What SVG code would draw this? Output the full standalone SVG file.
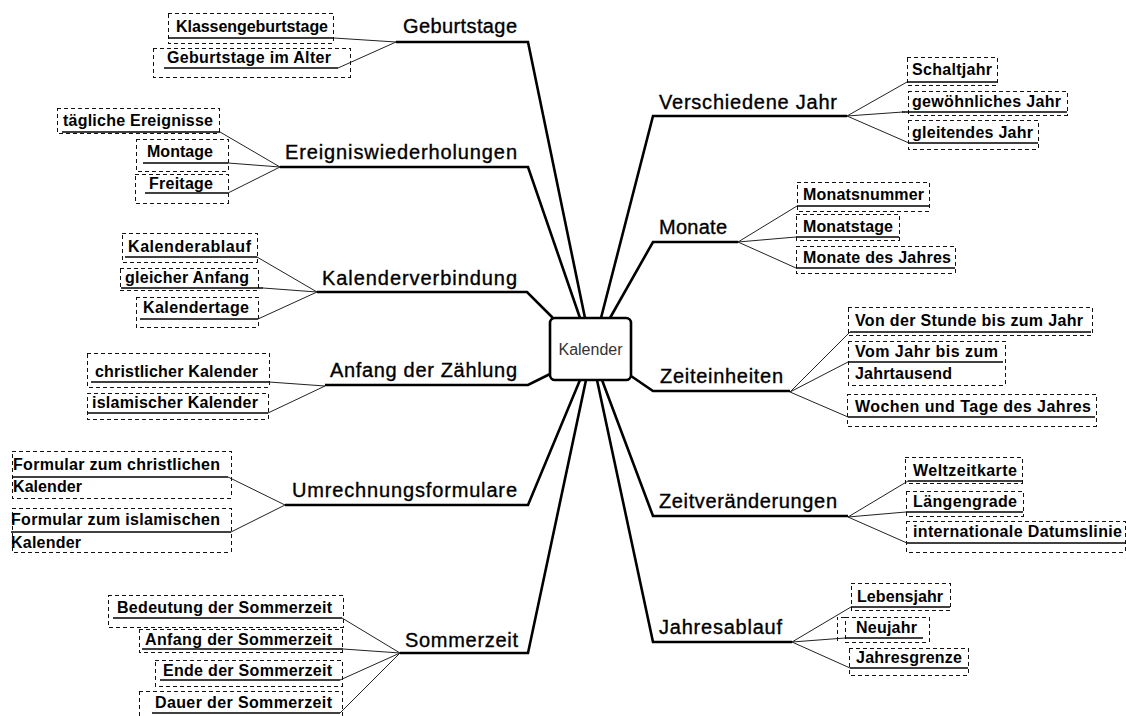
<svg xmlns="http://www.w3.org/2000/svg" width="1126" height="716" viewBox="0 0 1126 716">
<style>
.main{font-family:"Liberation Sans",Arial,sans-serif;font-size:20px;fill:#000;stroke:#000;stroke-width:0.35}
.sub{font-family:"Liberation Sans",Arial,sans-serif;font-size:16px;font-weight:bold;fill:#000}
.ctr{font-family:"Liberation Sans",Arial,sans-serif;font-size:16px;fill:#333}
.box{fill:none;stroke:#111;stroke-width:1;stroke-dasharray:4 3;shape-rendering:crispEdges}
.ul{stroke:#000;stroke-width:1.5}
.trunk{fill:none;stroke:#000;stroke-width:2.6;stroke-linejoin:miter}
.twig{fill:none;stroke:#222;stroke-width:1}
</style>
<rect width="1126" height="716" fill="#fff"/>
<g id="connectors">
<path class="trunk" d="M396,42H528L585,318"/>
<path class="trunk" d="M280,167H528L580,318"/>
<path class="trunk" d="M317,292H527L554,319"/>
<path class="trunk" d="M325,385H528L550,374"/>
<path class="trunk" d="M285,505H528L580,380"/>
<path class="trunk" d="M400,653H528L586,380"/>
<path class="trunk" d="M847,116H653L601,318"/>
<path class="trunk" d="M738,242H653L610,318"/>
<path class="trunk" d="M790,391H653L631,376"/>
<path class="trunk" d="M848,516H653L602,380"/>
<path class="trunk" d="M792,642H653L597,380"/>
<path class="twig" d="M334,38L396,42M338,68L396,42"/>
<path class="twig" d="M220,132L280,167M228,163L280,167M228,193L280,167"/>
<path class="twig" d="M257,257L317,292M263,288L317,292M258,319L317,292"/>
<path class="twig" d="M269,382L325,386M268,413L325,386"/>
<path class="twig" d="M228,477L285,505M231,532L285,505"/>
<path class="twig" d="M342,618L400,653M343,649L400,653M340,680L400,653M340,713L400,653"/>
<path class="twig" d="M847,116L907,82M847,116L903,112M847,116L909,143"/>
<path class="twig" d="M738,242L797,206M738,242L796,237M738,242L796,268"/>
<path class="twig" d="M790,392L850,332M790,392L848,362M790,392L848,417"/>
<path class="twig" d="M848,517L908,481M848,517L906,512M848,517L907,543"/>
<path class="twig" d="M792,642L851,607M792,642L845,638M792,642L850,668"/>
</g>
<g id="center">
<rect x="550" y="318" width="81" height="62" rx="5" fill="#fff" stroke="#000" stroke-width="2.6"/>
<text class="ctr" x="590.500" y="355" text-anchor="middle">Kalender</text>
</g>
<g id="geburtstage"><text class="main" x="403" y="33" textLength="114">Geburtstage</text></g>
<g id="ereignis"><text class="main" x="285" y="159" textLength="232">Ereigniswiederholungen</text></g>
<g id="kalenderverbindung"><text class="main" x="322" y="285" textLength="195">Kalenderverbindung</text></g>
<g id="anfang"><text class="main" x="330" y="377" textLength="187">Anfang der Zählung</text></g>
<g id="umrechnung"><text class="main" x="292" y="497" textLength="225">Umrechnungsformulare</text></g>
<g id="sommerzeit"><text class="main" x="405" y="647" textLength="113">Sommerzeit</text></g>
<g id="verschiedene"><text class="main" x="659" y="109" textLength="178">Verschiedene Jahr</text></g>
<g id="monate"><text class="main" x="659" y="234" textLength="68">Monate</text></g>
<g id="zeiteinheiten"><text class="main" x="660" y="383" textLength="123">Zeiteinheiten</text></g>
<g id="zeitveraenderungen"><text class="main" x="659" y="508" textLength="178">Zeitveränderungen</text></g>
<g id="jahresablauf"><text class="main" x="659" y="634" textLength="123">Jahresablauf</text></g>

<g id="s-klassen"><rect class="box" x="168" y="13" width="165" height="30"/><line class="ul" x1="168" y1="38" x2="334" y2="38"/><text class="sub" x="176" y="32" textLength="152">Klassengeburtstage</text></g>
<g id="s-alter"><rect class="box" x="153" y="48" width="197" height="29"/><line class="ul" x1="164" y1="68" x2="338" y2="68"/><text class="sub" x="167" y="63" textLength="164">Geburtstage im Alter</text></g>

<g id="s-taeglich"><rect class="box" x="57" y="108" width="162" height="25"/><line class="ul" x1="62" y1="132" x2="220" y2="132"/><text class="sub" x="63" y="126" textLength="150">tägliche Ereignisse</text></g>
<g id="s-montage"><rect class="box" x="136" y="139" width="92" height="32"/><line class="ul" x1="143" y1="163" x2="228" y2="163"/><text class="sub" x="147" y="157" textLength="66">Montage</text></g>
<g id="s-freitage"><rect class="box" x="135" y="174" width="93" height="29"/><line class="ul" x1="145" y1="193" x2="228" y2="193"/><text class="sub" x="149" y="189" textLength="64">Freitage</text></g>

<g id="s-kalenderablauf"><rect class="box" x="122" y="233" width="135" height="29"/><line class="ul" x1="125" y1="257" x2="257" y2="257"/><text class="sub" x="128" y="252" textLength="123">Kalenderablauf</text></g>
<g id="s-gleicher"><rect class="box" x="120" y="268" width="138" height="22"/><line class="ul" x1="121" y1="288" x2="263" y2="288"/><text class="sub" x="125" y="283" textLength="124">gleicher Anfang</text></g>
<g id="s-kalendertage"><rect class="box" x="136" y="297" width="122" height="30"/><line class="ul" x1="140" y1="319" x2="258" y2="319"/><text class="sub" x="143" y="313" textLength="106">Kalendertage</text></g>

<g id="s-christlich"><rect class="box" x="87" y="353" width="182" height="34"/><line class="ul" x1="91" y1="382" x2="269" y2="382"/><text class="sub" x="95" y="377" textLength="163">christlicher Kalender</text></g>
<g id="s-islamisch"><rect class="box" x="87" y="393" width="181" height="26"/><line class="ul" x1="88" y1="413" x2="268" y2="413"/><text class="sub" x="92" y="408" textLength="166">islamischer Kalender</text></g>

<g id="s-formchrist"><rect class="box" x="12" y="451" width="219" height="47"/><line class="ul" x1="12" y1="477" x2="228" y2="477"/><text class="sub" x="13" y="470" textLength="207">Formular zum christlichen</text><text class="sub" x="13" y="492" textLength="69">Kalender</text></g>
<g id="s-formislam"><rect class="box" x="12" y="508" width="219" height="44"/><line class="ul" x1="11" y1="532" x2="231" y2="532"/><text class="sub" x="11" y="525" textLength="209">Formular zum islamischen</text><text class="sub" x="11" y="548" textLength="70">Kalender</text></g>

<g id="s-bedeutung"><rect class="box" x="108" y="595" width="235" height="32"/><line class="ul" x1="113" y1="618" x2="342" y2="618"/><text class="sub" x="117" y="613" textLength="215">Bedeutung der Sommerzeit</text></g>
<g id="s-anfangsz"><rect class="box" x="139" y="629" width="203" height="23"/><line class="ul" x1="142" y1="649" x2="343" y2="649"/><text class="sub" x="145" y="645" textLength="187">Anfang der Sommerzeit</text></g>
<g id="s-ende"><rect class="box" x="155" y="660" width="187" height="26"/><line class="ul" x1="160" y1="680" x2="340" y2="680"/><text class="sub" x="163" y="676" textLength="169">Ende der Sommerzeit</text></g>
<g id="s-dauer"><rect class="box" x="139" y="691" width="203" height="30"/><line class="ul" x1="152" y1="713" x2="340" y2="713"/><text class="sub" x="155" y="708" textLength="177">Dauer der Sommerzeit</text></g>

<g id="s-schalt"><rect class="box" x="907" y="57" width="90" height="28"/><line class="ul" x1="907" y1="82" x2="997" y2="82"/><text class="sub" x="912" y="75" textLength="80">Schaltjahr</text></g>
<g id="s-gewoehnlich"><rect class="box" x="908" y="91" width="159" height="24"/><line class="ul" x1="902" y1="112" x2="1067" y2="112"/><text class="sub" x="912" y="107" textLength="149">gewöhnliches Jahr</text></g>
<g id="s-gleitend"><rect class="box" x="908" y="120" width="130" height="29"/><line class="ul" x1="909" y1="143" x2="1038" y2="143"/><text class="sub" x="912" y="138" textLength="121">gleitendes Jahr</text></g>

<g id="s-monatsnummer"><rect class="box" x="797" y="182" width="132" height="29"/><line class="ul" x1="797" y1="206" x2="929" y2="206"/><text class="sub" x="803" y="200" textLength="121">Monatsnummer</text></g>
<g id="s-monatstage"><rect class="box" x="796" y="214" width="103" height="26"/><line class="ul" x1="796" y1="237" x2="899" y2="237"/><text class="sub" x="803" y="232" textLength="90">Monatstage</text></g>
<g id="s-monatejahres"><rect class="box" x="796" y="246" width="159" height="27"/><line class="ul" x1="796" y1="268" x2="955" y2="268"/><text class="sub" x="803" y="263" textLength="148">Monate des Jahres</text></g>

<g id="s-stunde"><rect class="box" x="848" y="307" width="244" height="28"/><line class="ul" x1="850" y1="332" x2="1091" y2="332"/><text class="sub" x="855" y="326" textLength="228">Von der Stunde bis zum Jahr</text></g>
<g id="s-jahrtausend"><rect class="box" x="848" y="341" width="157" height="44"/><line class="ul" x1="848" y1="362" x2="1003" y2="362"/><text class="sub" x="855" y="357" textLength="143">Vom Jahr bis zum</text><text class="sub" x="855" y="379" textLength="97">Jahrtausend</text></g>
<g id="s-wochen"><rect class="box" x="847" y="394" width="249" height="32"/><line class="ul" x1="848" y1="417" x2="1095" y2="417"/><text class="sub" x="855" y="412" textLength="236">Wochen und Tage des Jahres</text></g>

<g id="s-weltzeit"><rect class="box" x="905" y="457" width="117" height="26"/><line class="ul" x1="908" y1="481" x2="1022" y2="481"/><text class="sub" x="913" y="476" textLength="104">Weltzeitkarte</text></g>
<g id="s-laengen"><rect class="box" x="906" y="491" width="117" height="25"/><line class="ul" x1="906" y1="512" x2="1023" y2="512"/><text class="sub" x="913" y="507" textLength="104">Längengrade</text></g>
<g id="s-datum"><rect class="box" x="906" y="521" width="219" height="31"/><line class="ul" x1="907" y1="543" x2="1126" y2="543"/><text class="sub" x="913" y="537" textLength="209">internationale Datumslinie</text></g>

<g id="s-lebensjahr"><rect class="box" x="851" y="583" width="99" height="27"/><line class="ul" x1="851" y1="607" x2="950" y2="607"/><text class="sub" x="857" y="602" textLength="86">Lebensjahr</text></g>
<g id="s-neujahr"><rect class="box" x="845" y="617" width="84" height="25"/><path class="box" d="M845,617H837V641"/><line class="ul" x1="845" y1="638" x2="923" y2="638"/><text class="sub" x="856" y="633" textLength="61">Neujahr</text></g>
<g id="s-grenze"><rect class="box" x="849" y="648" width="119" height="27"/><line class="ul" x1="850" y1="668" x2="968" y2="668"/><text class="sub" x="856" y="663" textLength="106">Jahresgrenze</text></g>
</svg>
